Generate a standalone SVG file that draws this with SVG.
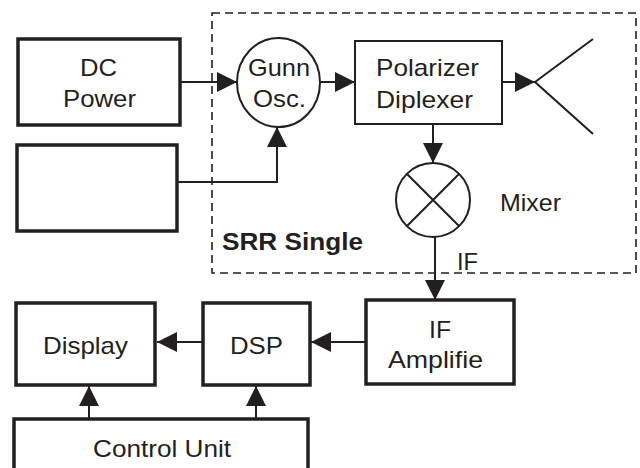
<svg xmlns="http://www.w3.org/2000/svg" width="640" height="468" viewBox="0 0 640 468">
<style>
.thick{fill:#fff;stroke:#231f20;stroke-width:3.5}
.thin{fill:#fff;stroke:#231f20;stroke-width:2}
.t{font-family:"Liberation Sans",Arial,sans-serif;font-size:24px;fill:#231f20;text-anchor:middle}
.c{fill:none;stroke:#231f20;stroke-width:2}
</style>
<defs>
<marker id="ah" markerUnits="userSpaceOnUse" markerWidth="20" markerHeight="20" refX="20" refY="10" orient="auto">
<path d="M0,0 L20,10 L0,20 z" fill="#231f20"/>
</marker>
</defs>
<rect x="212" y="13" width="424" height="260" fill="none" stroke="#231f20" stroke-width="1.6" stroke-dasharray="8,5"/>
<text id="srr" x="222" y="250" textLength="141" lengthAdjust="spacingAndGlyphs" style="font-family:'Liberation Sans',Arial,sans-serif;font-size:24px;font-weight:bold;fill:#231f20">SRR Single</text>
<g id="dcpower"><rect class="thick" x="18" y="39" width="162" height="86"/><text class="t" x="98.5" y="76" textLength="37" lengthAdjust="spacingAndGlyphs">DC</text><text class="t" x="99.5" y="107" textLength="73" lengthAdjust="spacingAndGlyphs">Power</text></g>
<g id="blank"><rect class="thick" x="17" y="145" width="160" height="86"/></g>
<g id="gunn"><ellipse class="thin" cx="278.5" cy="82.5" rx="41.5" ry="44.5"/><text class="t" x="279" y="76" textLength="62" lengthAdjust="spacingAndGlyphs">Gunn</text><text class="t" x="279.5" y="107" textLength="53" lengthAdjust="spacingAndGlyphs">Osc.</text></g>
<g id="polarizer"><rect class="thin" x="355" y="41" width="147" height="83"/><text class="t" x="427.5" y="76" textLength="103" lengthAdjust="spacingAndGlyphs">Polarizer</text><text class="t" x="424.5" y="108" textLength="97" lengthAdjust="spacingAndGlyphs">Diplexer</text></g>
<g id="antenna"><path class="c" d="M593,39 L535,82 L593,134"/></g>
<g id="mixer"><ellipse class="thin" cx="433" cy="200" rx="37" ry="37"/><path class="c" d="M407,174 L459,226 M459,174 L407,226"/><text class="t" x="530.5" y="211" textLength="61" lengthAdjust="spacingAndGlyphs">Mixer</text></g>
<g id="ifamp"><rect class="thick" x="366" y="300" width="148" height="84"/><text class="t" x="440" y="338" textLength="22" lengthAdjust="spacingAndGlyphs">IF</text><text class="t" x="435.5" y="368" textLength="95" lengthAdjust="spacingAndGlyphs">Amplifie</text></g>
<g id="dsp"><rect class="thick" x="203" y="303" width="107" height="82"/><text class="t" x="256.5" y="354" textLength="53" lengthAdjust="spacingAndGlyphs">DSP</text></g>
<g id="display"><rect class="thick" x="16" y="303" width="139" height="82"/><text class="t" x="85.5" y="354" textLength="85" lengthAdjust="spacingAndGlyphs">Display</text></g>
<g id="control"><rect class="thick" x="14" y="419" width="294" height="55"/><text class="t" x="162" y="457" textLength="138" lengthAdjust="spacingAndGlyphs">Control Unit</text></g>
<text id="iflabel" x="457" y="270" textLength="21" lengthAdjust="spacingAndGlyphs" style="font-family:'Liberation Sans',Arial,sans-serif;font-size:24px;fill:#231f20">IF</text>
<g id="connectors">
<line class="c" x1="180" y1="82" x2="237" y2="82" marker-end="url(#ah)"/>
<line class="c" x1="320" y1="82" x2="355" y2="82" marker-end="url(#ah)"/>
<line class="c" x1="502" y1="82" x2="535" y2="82" marker-end="url(#ah)"/>
<polyline class="c" points="177,182 277,182 277,127" marker-end="url(#ah)"/>
<line class="c" x1="433" y1="124" x2="433" y2="163" marker-end="url(#ah)"/>
<line class="c" x1="435" y1="237" x2="435" y2="300" marker-end="url(#ah)"/>
<line class="c" x1="366" y1="342" x2="311" y2="342" marker-end="url(#ah)"/>
<line class="c" x1="203" y1="342" x2="157" y2="342" marker-end="url(#ah)"/>
<line class="c" x1="89" y1="419" x2="89" y2="386" marker-end="url(#ah)"/>
<line class="c" x1="256" y1="419" x2="256" y2="386" marker-end="url(#ah)"/>
</g>
</svg>
